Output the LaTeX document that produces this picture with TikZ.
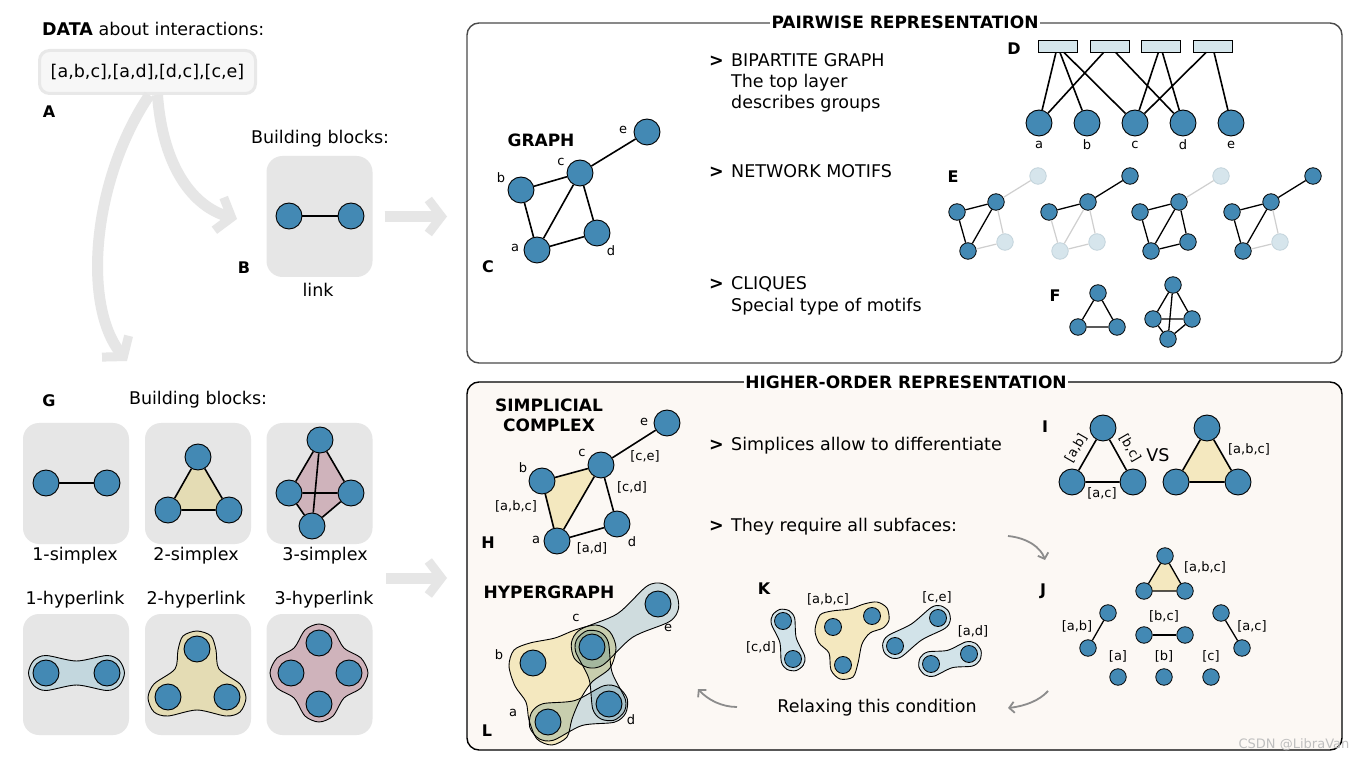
\documentclass[tikz,border=0pt]{standalone}
\usepackage{fontspec}
\setmainfont{DejaVu Sans}
\usetikzlibrary{arrows.meta,calc}
\pgfdeclarelayer{bgl}
\pgfdeclarelayer{midl}
\pgfsetlayers{bgl,midl,main}
\definecolor{nblue}{HTML}{4389B4}
\definecolor{fblue}{HTML}{D6E5EC}
\definecolor{fborder}{HTML}{C2D3DB}
\definecolor{lgray}{HTML}{CFCFCF}
\definecolor{boxgray}{HTML}{E6E6E6}
\definecolor{arrgray}{HTML}{E6E6E6}
\definecolor{databg}{HTML}{F7F7F7}
\definecolor{databorder}{HTML}{E8E8E8}
\definecolor{cream}{HTML}{FCF8F4}
\definecolor{yel}{HTML}{F4E8BF}
\definecolor{yelG}{HTML}{E4DCB4}
\definecolor{rosefill}{HTML}{CFB3BB}
\definecolor{lblue}{HTML}{D2E3E9}
\definecolor{lblueG}{HTML}{C3D7DE}
\definecolor{rectblue}{HTML}{D5E6EC}
\definecolor{darr}{HTML}{8C8C8C}
\definecolor{frameg}{HTML}{4A4A4A}
\newcommand\fmain{\fontsize{17.5}{21}\selectfont}
\newcommand\flab{\fontsize{13}{15}\selectfont}
\newcommand\fbig{\bfseries\fontsize{17}{20}\selectfont}
\newcommand\fpan{\bfseries\fontsize{16}{18}\selectfont}
\newcommand\capsule[5]{%
 \path[#5] plot[smooth cycle, tension=0.5] coordinates {
 ($(#1.center)!#3!90:(#2.center)$) ($(#1.center)!#3!135:(#2.center)$) ($(#1.center)!#3!180:(#2.center)$) ($(#1.center)!#3!225:(#2.center)$) ($(#1.center)!#3!270:(#2.center)$)
 ($(#1.center)!0.5!(#2.center)!#4!270:(#2.center)$)
 ($(#2.center)!#3!90:(#1.center)$) ($(#2.center)!#3!135:(#1.center)$) ($(#2.center)!#3!180:(#1.center)$) ($(#2.center)!#3!225:(#1.center)$) ($(#2.center)!#3!270:(#1.center)$)
 ($(#1.center)!0.5!(#2.center)!#4!90:(#2.center)$)
 };}
\newcommand\motif[7]{%
 \begin{scope}[xshift=#2]
  \node[n#3] (#1a) at (968,251) {};
  \node[n#4] (#1b) at (957,212) {};
  \node[n#5] (#1c) at (996,202) {};
  \node[n#6] (#1d) at (1005,242) {};
  \node[n#7] (#1e) at (1038,176) {};
  \draw[e#3#4] (#1a)--(#1b);
  \draw[e#4#5] (#1b)--(#1c);
  \draw[e#3#5] (#1a)--(#1c);
  \draw[e#5#6] (#1c)--(#1d);
  \draw[e#3#6] (#1a)--(#1d);
  \draw[e#5#7] (#1c)--(#1e);
 \end{scope}}
\begin{document}
\begin{tikzpicture}[x=1pt,y=-1pt,
 nd/.style={circle, draw=black, line width=0.9pt, fill=nblue, minimum size=26pt, inner sep=0pt},
 nA/.style={nd, minimum size=16.5pt, line width=0.8pt},
 nF/.style={circle, draw=fborder, fill=fblue, line width=0.8pt, minimum size=16.5pt, inner sep=0pt},
 ed/.style={draw=black, line width=1.6pt},
 eAA/.style={draw=black, line width=1.3pt},
 eAF/.style={draw=lgray, line width=1.2pt}, eFA/.style={eAF}, eFF/.style={eAF},
 txt/.style={font=\fmain, inner sep=0pt, text height=12.5pt, text depth=3.5pt},
 lab/.style={font=\flab, inner sep=0pt},
 pan/.style={font=\fpan, inner sep=0pt},
 gbox/.style={fill=boxgray, rounded corners=16pt, draw=none, minimum width=106pt, minimum height=121pt, inner sep=0pt},
 bigarr/.style={draw=arrgray, line width=11pt, -{Straight Barb[length=13pt, width=34pt, line width=9pt]}},
 carr/.style={draw=darr, line width=1.8pt, -{Straight Barb[length=5pt, width=11pt, line width=1.8pt]}},
 blob/.style={draw=black, line width=0.9pt},
]
\begin{pgfonlayer}{bgl}
\fill[white] (0,0) rectangle (1361,759);
\node[draw=frameg, line width=1.4pt, rounded corners=12pt, fill=white, minimum width=875pt, minimum height=340pt, inner sep=0pt] (pbox) at (904.5,193) {};
\node[draw=black, line width=1.4pt, rounded corners=12pt, fill=cream, minimum width=875pt, minimum height=368pt, inner sep=0pt] (hbox) at (904.5,566) {};
\node[gbox] (Bbox) at (319.5,216.5) {};
\node[gbox] (Gbox1) at (76,483.5) {};
\node[gbox] (Gbox2) at (198,483.5) {};
\node[gbox] (Gbox3) at (319.5,483.5) {};
\node[gbox] (Gbox4) at (76,674.5) {};
\node[gbox] (Gbox5) at (198,674.5) {};
\node[gbox] (Gbox6) at (319.5,674.5) {};
\end{pgfonlayer}
\useasboundingbox (0,0) rectangle (1361,759);

% ---------- A ----------
\node[txt, anchor=west] (datatitle) at (42,31) {\textbf{DATA} about interactions:};
\node[draw=databorder, line width=3pt, fill=databg, rounded corners=10pt, minimum width=216pt, minimum height=43pt, inner sep=0pt, font=\fmain] (data) at (147.5,72) {[a,b,c],[a,d],[d,c],[c,e]};
\node[pan] (labA) at (49,112) {A};
\coordinate (arrLend) at (127,361);
\coordinate (arrRend) at (237,219);
\draw[bigarr] ([xshift=2pt]data.south) .. controls (92,180) and (82,305) .. (arrLend);
\draw[bigarr] ([xshift=10pt]data.south) .. controls (163,170) and (195,207) .. (arrRend);

% ---------- B ----------
\node[font=\fmain] (bbB) at (320,139) {Building blocks:};
\node[nd] (B1) at (289,216) {};
\node[nd] (B2) at (351,216) {};
\draw[ed] (B1) -- (B2);
\node[pan] (labB) at (244,268) {B};
\node[font=\fmain] (linkt) at (318,290) {link};
\coordinate (arrBend) at (447,216.5);
\draw[bigarr] ([xshift=12pt]Bbox.east) -- (arrBend);

% ---------- titles ----------
\node[fill=white, font=\fbig, inner sep=1.5pt] (ptitle) at (905,22) {PAIRWISE REPRESENTATION};
\node[fill=white, font=\fbig, inner sep=1.5pt] (htitle) at (906,382) {HIGHER-ORDER REPRESENTATION};

% ---------- C ----------
\node[font=\fbig] (graphT) at (541,140) {GRAPH};
\node[nd] (Ca) at (537,250) {};
\node[nd] (Cb) at (521,190) {};
\node[nd] (Cc) at (580,173) {};
\node[nd] (Cd) at (597,233) {};
\node[nd] (Ce) at (647,132) {};
\draw[ed] (Cb)--(Cc) (Cc)--(Ce) (Cb)--(Ca) (Ca)--(Cc) (Cc)--(Cd) (Ca)--(Cd);
\node[lab] (Cla) at (515,248) {a};
\node[lab] (Clb) at (501,178) {b};
\node[lab] (Clc) at (561,162) {c};
\node[lab] (Cld) at (611,251) {d};
\node[lab] (Cle) at (623,130) {e};
\node[pan] (labC) at (488,267) {C};

% ---------- top texts ----------
\node[txt, anchor=west] (g1) at (709,62) {\textbf{>}};
\node[txt, anchor=west] (t1) at (731,62) {BIPARTITE GRAPH};
\node[txt, anchor=west] (t2) at (731,83) {The top layer};
\node[txt, anchor=west] (t3) at (731,104) {describes groups};
\node[txt, anchor=west] (g2) at (709,173) {\textbf{>}};
\node[txt, anchor=west] (t4) at (731,173) {NETWORK MOTIFS};
\node[txt, anchor=west] (g3) at (709,285) {\textbf{>}};
\node[txt, anchor=west] (t5) at (731,285) {CLIQUES};
\node[txt, anchor=west] (t6) at (731,307) {Special type of motifs};

% ---------- D ----------
\foreach \i/\x in {1/1057.5,2/1109.5,3/1160.5,4/1212.5}
  \node[rectangle, draw=black, line width=0.8pt, fill=rectblue, minimum width=39pt, minimum height=12pt, inner sep=0pt] (Dr\i) at (\x,46) {};
\foreach \n/\x in {a/1039,b/1087,c/1135,d/1183,e/1231}{
  \node[nd] (D\n) at (\x,123) {};
  \node[lab] (Dl\n) at (\x,145) {\n};
}
\draw[ed] (Dr1)--(Da) (Dr1)--(Db) (Dr1)--(Dc) (Dr2)--(Da) (Dr2)--(Dd) (Dr3)--(Dc) (Dr3)--(Dd) (Dr4)--(Dc) (Dr4)--(De);
\node[pan] (labD) at (1014,49) {D};

% ---------- E ----------
\motif{Ea}{0pt}{A}{A}{A}{F}{F}
\motif{Eb}{92pt}{F}{A}{A}{F}{A}
\motif{Ec}{183pt}{A}{A}{A}{A}{F}
\motif{Ed}{275pt}{A}{A}{A}{F}{A}
\node[pan] (labE) at (953,177) {E};

% ---------- F ----------
\node[nA] (F1t) at (1098,293) {};
\node[nA] (F1l) at (1078,327) {};
\node[nA] (F1r) at (1117,327) {};
\draw[eAA] (F1t)--(F1l) (F1t)--(F1r);
\draw[draw=gray!70!black, line width=1.1pt] (F1l)--(F1r);
\node[nA] (F2t) at (1173,285) {};
\node[nA] (F2l) at (1153,319) {};
\node[nA] (F2r) at (1192,319) {};
\node[nA] (F2b) at (1168,339) {};
\draw[draw=gray!70!black, line width=1.1pt] (F2l)--(F2r);
\draw[eAA] (F2t)--(F2l) (F2t)--(F2r) (F2l)--(F2b) (F2r)--(F2b) (F2t)--(F2b);
\node[pan] (labF) at (1055,296) {F};

% ---------- G ----------
\node[pan] (labG) at (49,401) {G};
\node[font=\fmain] (bbG) at (198,400) {Building blocks:};
\node[nd] (G1a) at (46,483) {};
\node[nd] (G1b) at (107,483) {};
\draw[ed] (G1a)--(G1b);
\node[nd] (G2t) at (198,457) {};
\node[nd] (G2l) at (168,510) {};
\node[nd] (G2r) at (229,510) {};
\draw[ed] (G2t)--(G2l) (G2t)--(G2r) (G2l)--(G2r);
\node[nd] (G3t) at (320,440) {};
\node[nd] (G3l) at (289,493) {};
\node[nd] (G3r) at (351,493) {};
\node[nd] (G3b) at (312,526) {};
\draw[ed] (G3t)--(G3l) (G3t)--(G3r) (G3l)--(G3b) (G3r)--(G3b) (G3l)--(G3r) (G3t)--(G3b);
\begin{pgfonlayer}{midl}
\fill[yelG] (G2t.center)--(G2l.center)--(G2r.center)--cycle;
\fill[rosefill] (G3t.center)--(G3r.center)--(G3b.center)--(G3l.center)--cycle;
\end{pgfonlayer}
\node[font=\fmain] (s1) at (75,556) {1-simplex};
\node[font=\fmain] (s2) at (196,556) {2-simplex};
\node[font=\fmain] (s3) at (325,556) {3-simplex};
\node[font=\fmain] (h1) at (75,600) {1-hyperlink};
\node[font=\fmain] (h2) at (196,600) {2-hyperlink};
\node[font=\fmain] (h3) at (324,600) {3-hyperlink};
\node[nd] (Gh1a) at (46,673) {};
\node[nd] (Gh1b) at (107,673) {};
\node[nd] (Gh2t) at (197,649) {};
\node[nd] (Gh2l) at (168,697) {};
\node[nd] (Gh2r) at (227,697) {};
\node[nd] (Gh3t) at (319,643) {};
\node[nd] (Gh3l) at (291,673) {};
\node[nd] (Gh3r) at (349,673) {};
\node[nd] (Gh3b) at (319,704) {};
\begin{pgfonlayer}{midl}
\capsule{Gh1a}{Gh1b}{17.5pt}{12pt}{blob, fill=lblueG}
\path[blob, fill=yelG] plot[smooth cycle, tension=0.5] coordinates {(197,631) (211,636) (216,650) (219,669) (240,684) (246,698) (240,712) (226,716) (197,710) (168,716) (154,712) (148,698) (154,684) (175,669) (178,650) (183,636)};
\path[blob, fill=rosefill] plot[smooth cycle, tension=0.5] coordinates {(305,630) (319,624) (333,630) (344,648) (361,658) (368,673) (361,688) (344,698) (333,716) (319,722) (305,716) (294,698) (277,688) (270,673) (277,658) (294,648)};
\end{pgfonlayer}
\coordinate (arrGstart) at (386,578);
\coordinate (arrGend) at (447,578);
\draw[bigarr] (arrGstart) -- (arrGend);

% ---------- H ----------
\node[font=\fbig] (simT1) at (549,405) {SIMPLICIAL};
\node[font=\fbig] (simT2) at (549,425) {COMPLEX};
\node[nd] (Ha) at (557,541) {};
\node[nd] (Hb) at (542,481) {};
\node[nd] (Hc) at (601,465) {};
\node[nd] (Hd) at (617,524) {};
\node[nd] (He) at (667,423) {};
\begin{pgfonlayer}{midl}
\fill[yel] (Ha.center)--(Hb.center)--(Hc.center)--cycle;
\end{pgfonlayer}
\draw[ed] (Hb)--(Hc) (Hb)--(Ha) (Ha)--(Hc) (Hc)--(He) (Hc)--(Hd) (Ha)--(Hd);
\node[lab] (Hle) at (644,422) {e};
\node[lab] (Hlc) at (582,453) {c};
\node[lab] (Hlb) at (523,468) {b};
\node[lab] (Hla) at (536,540) {a};
\node[lab] (Hld) at (632,542) {d};
\node[lab] (Hce) at (645,456) {[c,e]};
\node[lab] (Hcd) at (632,487) {[c,d]};
\node[lab] (Habc) at (516,506) {[a,b,c]};
\node[lab] (Had) at (592,548) {[a,d]};
\node[pan] (labH) at (488,543) {H};

% ---------- bottom texts ----------
\node[txt, anchor=west] (g4) at (709,446) {\textbf{>}};
\node[txt, anchor=west] (t7) at (731,446) {Simplices allow to differentiate};
\node[txt, anchor=west] (g5) at (709,527) {\textbf{>}};
\node[txt, anchor=west] (t8) at (731,527) {They require all subfaces:};
\node[txt] (t9) at (877,708) {Relaxing this condition};

% ---------- I ----------
\node[pan] (labI) at (1045,427) {I};
\node[nd] (It) at (1103,428) {};
\node[nd] (Il) at (1072,482) {};
\node[nd] (Ir) at (1133,482) {};
\draw[ed] (It)--(Il) (It)--(Ir) (Il)--(Ir);
\node[lab, rotate=60] (Iab) at (1076,448) {[a,b]};
\node[lab, rotate=-60] (Ibc) at (1130,448) {[b,c]};
\node[lab] (Iac) at (1102,493) {[a,c]};
\node[font=\fmain] (vs) at (1158,455) {VS};
\node[nd] (I2t) at (1207,428) {};
\node[nd] (I2l) at (1176,482) {};
\node[nd] (I2r) at (1238,482) {};
\begin{pgfonlayer}{midl}
\fill[yel] (I2t.center)--(I2l.center)--(I2r.center)--cycle;
\end{pgfonlayer}
\draw[ed] (I2t)--(I2l) (I2t)--(I2r) (I2l)--(I2r);
\node[lab] (Iabc) at (1249,449) {[a,b,c]};

% ---------- J ----------
\node[pan] (labJ) at (1043,591) {J};
\node[nA] (Jt) at (1165,556) {};
\node[nA] (Jl) at (1144,591) {};
\node[nA] (Jr) at (1185,591) {};
\begin{pgfonlayer}{midl}
\fill[yel] (Jt.center)--(Jl.center)--(Jr.center)--cycle;
\end{pgfonlayer}
\draw[eAA] (Jt)--(Jl) (Jt)--(Jr) (Jl)--(Jr);
\node[lab] (Jlabc) at (1205,567) {[a,b,c]};
\node[nA] (Jab1) at (1108,613) {};
\node[nA] (Jab2) at (1088,648) {};
\draw[eAA] (Jab1)--(Jab2);
\node[lab] (Jlab) at (1077,626) {[a,b]};
\node[nA] (Jbc1) at (1144,635) {};
\node[nA] (Jbc2) at (1185,635) {};
\draw[eAA] (Jbc1)--(Jbc2);
\node[lab] (Jlbc) at (1164,616) {[b,c]};
\node[nA] (Jac1) at (1221,613) {};
\node[nA] (Jac2) at (1242,648) {};
\draw[eAA] (Jac1)--(Jac2);
\node[lab] (Jlac) at (1252,626) {[a,c]};
\node[nA] (Jsa) at (1118,677) {};
\node[nA] (Jsb) at (1164,677) {};
\node[nA] (Jsc) at (1211,677) {};
\node[lab] (Jla) at (1118,656) {[a]};
\node[lab] (Jlb) at (1164,656) {[b]};
\node[lab] (Jlc) at (1211,656) {[c]};

% ---------- curved arrows ----------
\coordinate (ca1s) at (1008,536);
\coordinate (ca1e) at (1045,560);
\draw[carr] (ca1s) .. controls (1028,538) and (1041,548) .. (ca1e);
\coordinate (ca2s) at (1048,691);
\coordinate (ca2e) at (1008,708);
\draw[carr] (ca2s) .. controls (1040,700) and (1026,706) .. (ca2e);
\coordinate (ca3s) at (737,707);
\coordinate (ca3e) at (698,689);
\draw[carr] (ca3s) .. controls (722,707) and (708,700) .. (ca3e);

% ---------- K ----------
\node[pan] (labK) at (764,589) {K};
\node[nA, minimum size=17pt] (Kc1) at (783,621) {};
\node[nA, minimum size=17pt] (Kd1) at (793,659) {};
\node[nA, minimum size=17pt] (Ka2) at (833,627) {};
\node[nA, minimum size=17pt] (Kb2) at (872,616) {};
\node[nA, minimum size=17pt] (Kc2) at (843,665) {};
\node[nA, minimum size=17pt] (Kc3) at (895,646) {};
\node[nA, minimum size=17pt] (Ke3) at (938,618) {};
\node[nA, minimum size=17pt] (Ka4) at (931,664) {};
\node[nA, minimum size=17pt] (Kd4) at (969,654) {};
\begin{pgfonlayer}{midl}
\capsule{Kc1}{Kd1}{12pt}{8.5pt}{blob, fill=lblue}
\capsule{Kc3}{Ke3}{12.5pt}{9.5pt}{blob, fill=lblue}
\capsule{Ka4}{Kd4}{12.5pt}{9pt}{blob, fill=lblue}
\path[blob, fill=yel] plot[smooth cycle, tension=0.5] coordinates {(820,615) (832,611) (850,609) (864,604) (877,602) (887,608) (889,620) (883,628) (870,633) (862,644) (858,663) (853,677) (840,679) (831,670) (829,653) (819,643) (815,630)};
\end{pgfonlayer}
\node[lab] (Kcd) at (761,647) {[c,d]};
\node[lab] (Kabc) at (828,599) {[a,b,c]};
\node[lab] (Kce) at (937,597) {[c,e]};
\node[lab] (Kad) at (973,631) {[a,d]};

% ---------- L ----------
\node[font=\fbig] (hypT) at (549,592) {HYPERGRAPH};
\node[nd] (La) at (548,722) {};
\node[nd] (Lb) at (533,663) {};
\node[nd] (Lc) at (592,647) {};
\node[nd] (Ld) at (609,704) {};
\node[nd] (Le) at (658,604) {};
\begin{pgfonlayer}{midl}
\path[blob, fill=yel] plot[smooth cycle, tension=0.5] coordinates {(596,625) (575,630) (555,638) (530,643) (514,650) (509,666) (515,686) (526,702) (529,720) (537,739) (552,745) (567,737) (572,719) (580,700) (592,682) (610,668) (616,648) (610,632)};
\capsule{Lc}{Le}{21pt}{14pt}{blob, fill=lblue, blend mode=multiply}
\capsule{Lc}{Ld}{17pt}{12pt}{blob, fill=lblue, blend mode=multiply}
\capsule{La}{Ld}{19pt}{13pt}{blob, fill=lblue, blend mode=multiply}
\end{pgfonlayer}
\node[lab] (Llc) at (576,618) {c};
\node[lab] (Lle) at (668,628) {e};
\node[lab] (Llb) at (499,655) {b};
\node[lab] (Lla) at (513,713) {a};
\node[lab] (Lld) at (631,720) {d};
\node[pan] (labL) at (487,731) {L};

\node[font=\fontsize{13}{14}\selectfont, text=gray!50, inner sep=0pt] (wm) at (1294,745) {CSDN @LibraVan};
\end{tikzpicture}
\end{document}
